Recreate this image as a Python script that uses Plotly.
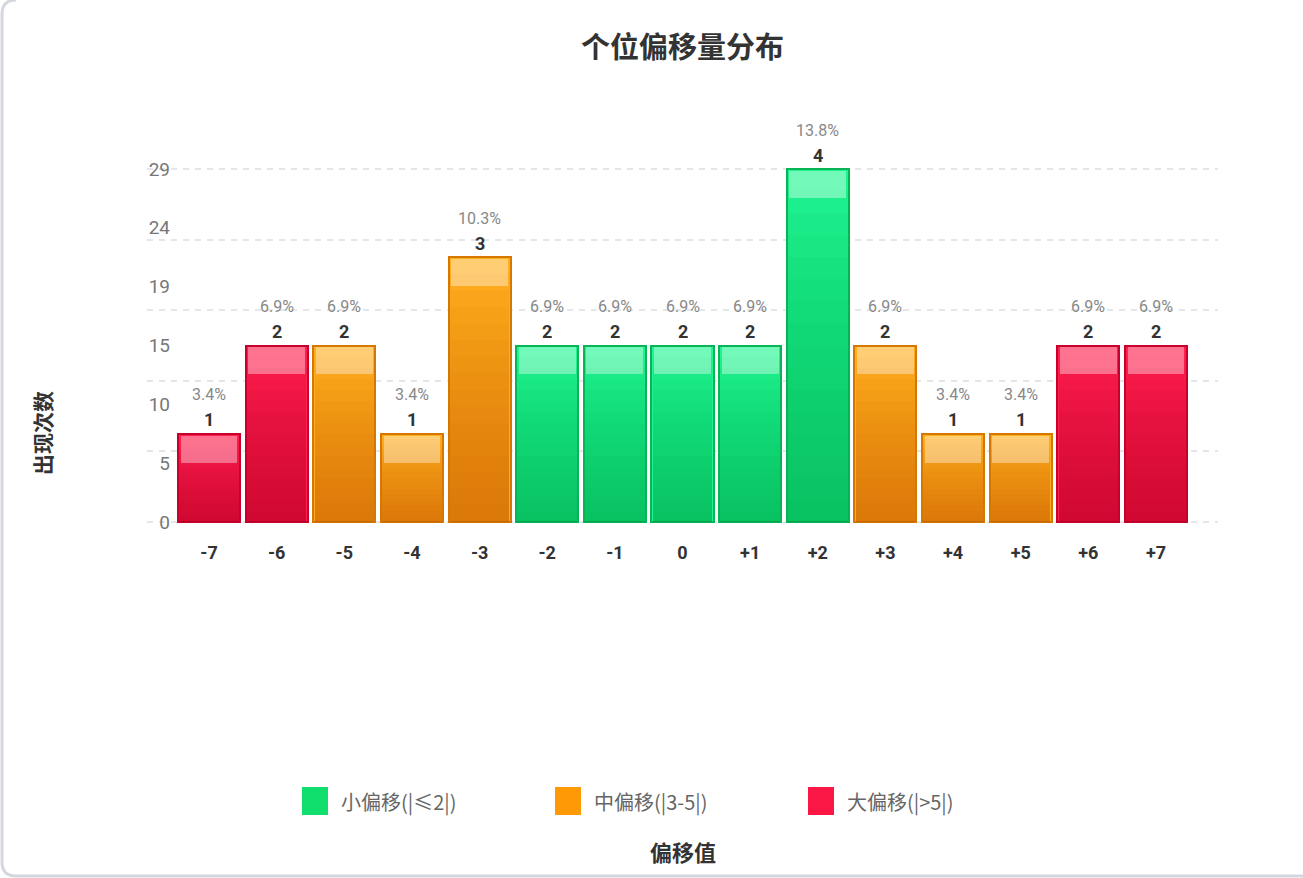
import plotly.graph_objects as go

# ---------------- data ----------------
offsets = ["-7", "-6", "-5", "-4", "-3", "-2", "-1", "0", "+1", "+2", "+3", "+4", "+5", "+6", "+7"]
counts = [1, 2, 2, 1, 3, 2, 2, 2, 2, 4, 2, 1, 1, 2, 2]
group_names = ["小偏移(|≤2|)", "中偏移(|3-5|)", "大偏移(|>5|)"]
y_tick_labels = [0, 5, 10, 15, 19, 24, 29]
title_text = "个位偏移量分布"
x_title = "偏移值"
y_title = "出现次数"

# ---------------- style ----------------
W, H = 1303, 878
PLOT_L, PLOT_R, PLOT_T, PLOT_B = 147, 1218, 169, 522   # pixel box of value range
PAD = 2                                                # extra px so edge gridlines are kept
L, R, T, B = PLOT_L, W - PLOT_R, PLOT_T - PAD, H - PLOT_B - PAD
PW, PH = W - L - R, H - T - B
FONT = "Roboto, 'Noto Sans CJK SC', sans-serif"
CJK = "'Noto Sans CJK SC', Roboto, sans-serif"
fill_top = ["#1ef590", "#ffae1e", "#ff1e4e"]
shade_c = ["rgba(0,160,64,0.056)", "rgba(208,96,0,0.056)", "rgba(190,0,30,0.056)"]
border_c = ["#08b455", "#d67800", "#c8002c"]
legend_c = ["#10df6e", "#ff9a06", "#fa1745"]
BAR_W = 0.917
INNER_W = 0.84
BAND_PX = 27


def group_of(label):
    a = abs(int(label))
    return 0 if a <= 2 else (1 if a <= 5 else 2)


total = sum(counts)
ymax = max(counts)
px_per_unit = (PLOT_B - PLOT_T) / ymax
eps = PAD / px_per_unit
band_h = BAND_PX / px_per_unit
idx = list(range(len(offsets)))
groups = [group_of(o) for o in offsets]

fig = go.Figure()

# main bars per group
for g in range(3):
    xs = [i for i, gg in zip(idx, groups) if gg == g]
    ys = [c for c, gg in zip(counts, groups) if gg == g]
    fig.add_trace(go.Bar(
        x=xs, y=ys, width=BAR_W, name=group_names[g],
        marker=dict(color=fill_top[g], line=dict(color=border_c[g], width=2)),
        showlegend=False, hoverinfo="skip",
    ))

# vertical shading (darker toward bottom)
N = 16
for k in range(1, N):
    fig.add_trace(go.Bar(
        x=idx, y=[c * k / N for c in counts], width=INNER_W + 0.04,
        marker=dict(color=[shade_c[g] for g in groups], line=dict(width=0)),
        showlegend=False, hoverinfo="skip",
    ))

# top highlight band
fig.add_trace(go.Bar(
    x=idx, y=[band_h] * len(counts), base=[c - band_h - 0.02 for c in counts],
    width=INNER_W,
    marker=dict(color="rgba(255,255,255,0.38)", line=dict(width=0)),
    showlegend=False, hoverinfo="skip",
))

# value labels
annotations = []
for i, c in zip(idx, counts):
    annotations.append(dict(x=i, y=c, xref="x", yref="y", text=f"<b>{c}</b>",
                            showarrow=False, yanchor="middle", yshift=14,
                            font=dict(family=FONT, size=18, color="#333333")))
    annotations.append(dict(x=i, y=c, xref="x", yref="y", text=f"{c / total * 100:.1f}%",
                            showarrow=False, yanchor="middle", yshift=39,
                            font=dict(family=FONT, size=16, color="#888888")))


def px(xp):
    return (xp - L) / PW


def py(yp):
    return (T + PH - yp) / PH


# axis titles
annotations.append(dict(x=px(42), y=py(433), xref="paper", yref="paper", text=f"<b>{y_title}</b>",
                        textangle=-90, showarrow=False, xanchor="center", yanchor="middle",
                        font=dict(family=CJK, size=21, color="#333333")))
annotations.append(dict(x=px(683), y=py(851), xref="paper", yref="paper", text=f"<b>{x_title}</b>",
                        showarrow=False, xanchor="center", yanchor="middle",
                        font=dict(family=CJK, size=22, color="#333333")))

# custom legend
shapes = []
legend_x = [302, 555, 808]
for g in range(3):
    x0 = legend_x[g]
    shapes.append(dict(type="rect", xref="paper", yref="paper",
                       x0=px(x0), x1=px(x0 + 26), y0=py(815), y1=py(787),
                       fillcolor=legend_c[g], line=dict(width=0)))
    annotations.append(dict(x=px(x0 + 37), y=py(801), xref="paper", yref="paper", text=group_names[g],
                            showarrow=False, xanchor="left", yanchor="middle",
                            font=dict(family=CJK, size=20, color="#666666")))

# card border (left + bottom, rounded corners)
r = 14
bx, by = 2, 876
path = (f"M {px(bx + r)},{py(0)} Q {px(bx)},{py(0)} {px(bx)},{py(r)} "
        f"L {px(bx)},{py(by - r)} Q {px(bx)},{py(by)} {px(bx + r)},{py(by)} L {px(W + 10)},{py(by)}")
shapes.append(dict(type="path", xref="paper", yref="paper", path=path,
                   line=dict(color="#d4d8de", width=3), layer="below"))

n_lab = len(y_tick_labels)
fig.update_layout(
    width=W, height=H,
    margin=dict(l=L, r=R, t=T, b=B),
    paper_bgcolor="white", plot_bgcolor="white",
    barmode="overlay", bargap=0,
    title=dict(text=f"<b>{title_text}</b>", x=0.5, xref="paper", xanchor="center",
               y=1 - 48 / H, yref="container", yanchor="middle",
               font=dict(family=CJK, size=29, color="#333333")),
    xaxis=dict(range=[-0.917, len(offsets) - 1 + 0.917],
               tickvals=idx, ticktext=[f"<b>{o}</b>" for o in offsets],
               showgrid=False, zeroline=False, showline=False, ticks="",
               ticklabelstandoff=16,
               tickfont=dict(family=FONT, size=18, color="#333333")),
    yaxis=dict(range=[-eps, ymax + eps], tickvals=[ymax * i / 5 for i in range(6)],
               showticklabels=False, showgrid=True, gridcolor="#e3e6ea", gridwidth=1.5,
               griddash="6px,6px", zeroline=False, showline=False, ticks=""),
    yaxis2=dict(overlaying="y", anchor="free", position=px(170), side="left",
                range=[-eps, ymax + eps], tickvals=[ymax * i / (n_lab - 1) for i in range(n_lab)],
                ticktext=[str(v) for v in y_tick_labels],
                showgrid=False, zeroline=False, showline=False, ticks="",
                tickfont=dict(family=FONT, size=19, color="#777777")),
    annotations=annotations,
    shapes=shapes,
)
# invisible trace so yaxis2 is drawn
fig.add_trace(go.Scatter(x=[0], y=[0], yaxis="y2", mode="markers",
                         marker=dict(opacity=0), showlegend=False, hoverinfo="skip"))

fig.write_html("out.html")
